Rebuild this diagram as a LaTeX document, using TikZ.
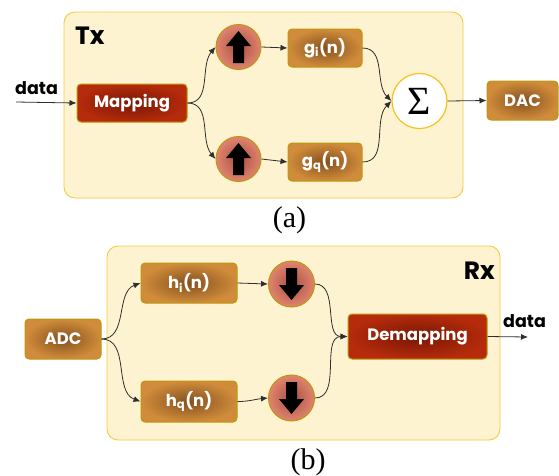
\documentclass[tikz,border=0pt]{standalone}
\usepackage{fontspec}
\setmainfont{Liberation Serif}
\setsansfont{Poppins}
\usetikzlibrary{arrows.meta}

\definecolor{panelfill}{HTML}{FEF3D0}
\definecolor{panelline}{HTML}{F3CB42}
\definecolor{boxline}{HTML}{BC980E}
\definecolor{redin}{HTML}{781705}
\definecolor{redout}{HTML}{B52B0B}
\definecolor{brin}{HTML}{85501F}
\definecolor{brout}{HTML}{D08C3A}
\definecolor{cirin}{HTML}{A9503F}
\definecolor{cirout}{HTML}{E0846F}
\definecolor{sumline}{HTML}{F6C21C}
\definecolor{wire}{HTML}{2E2E2E}

\tikzset{
  panel/.style={draw=panelline, fill=panelfill, line width=0.9pt, rounded corners=11pt},
  lbl/.style={font=\sffamily\bfseries\fontsize{16.5}{16.5}\selectfont, text=white, inner sep=0pt},
  redbox/.style={lbl, draw=boxline, line width=1pt, rounded corners=4pt,
    shading=radial, inner color=redin, outer color=redout},
  brownbox/.style={lbl, draw=boxline, line width=1pt, rounded corners=4pt,
    shading=radial, inner color=brin, outer color=brout},
  ratecirc/.style={circle, draw=boxline, line width=1pt, minimum size=45pt, inner sep=0pt,
    shading=radial, inner color=cirin, outer color=cirout},
  sumcirc/.style={circle, draw=sumline, line width=1.2pt, fill=white, minimum size=55pt, inner sep=0pt},
  heading/.style={font=\sffamily\bfseries\fontsize{25}{25}\selectfont, inner sep=0pt},
  sig/.style={font=\sffamily\bfseries\fontsize{17.5}{17.5}\selectfont, inner sep=0pt},
  caption/.style={font=\fontsize{30}{30}\selectfont, inner sep=0pt},
  link/.style={draw=wire, line width=0.8pt, -{Latex[length=7pt,width=6pt]}},
}

\newcommand\arrowup[1]{%
  \begin{scope}[shift={(#1.center)}]
    \fill[black] (0,-16) -- (12.5,-1) -- (5.5,-1) -- (5.5,16) -- (-5.5,16) -- (-5.5,-1) -- (-12.5,-1) -- cycle;
  \end{scope}}
\newcommand\arrowdown[1]{%
  \begin{scope}[shift={(#1.center)}]
    \fill[black] (0,16) -- (12.5,1) -- (5.5,1) -- (5.5,-16) -- (-5.5,-16) -- (-5.5,1) -- (-12.5,1) -- cycle;
  \end{scope}}

\begin{document}
\begin{tikzpicture}[x=1pt, y=-1pt]
\useasboundingbox (0,0) rectangle (559,475);

% ---------- transmitter ----------
\draw[panel] (64,12) rectangle (463,198);
\node[heading, anchor=base west] (tx) at (75,44) {Tx};
\node[sig, anchor=base west] (din) at (15,94) {data};
\coordinate (din0) at (16,102);

\node[redbox, minimum width=110pt, minimum height=38pt] (map) at (132,103) {Mapping};
\node[ratecirc] (up1) at (238.5,47) {};
\node[ratecirc] (up2) at (238.5,159) {};
\arrowup{up1}
\arrowup{up2}
\node[brownbox, minimum width=74pt, minimum height=38pt] (gi) at (325,48) {g\textsubscript{i}(n)};
\node[brownbox, minimum width=74pt, minimum height=38pt] (gq) at (325,162) {g\textsubscript{q}(n)};
\node[sumcirc, font=\fontsize{40}{40}\selectfont] (sum) at (419.5,101) {\raisebox{-2pt}{Σ}};
\node[brownbox, minimum width=71pt, minimum height=39pt] (dac) at (522.5,100.5) {DAC};

\draw[link] (din0) -- (map.west);
\draw[link] (map.east) to[out=0, in=230] (up1.west);
\draw[link] (map.east) to[out=0, in=130] (up2.west);
\draw[link] (up1.east) -- (gi.west);
\draw[link] (up2.east) -- (gq.west);
\draw[link] (gi.east) to[out=0, in=135] (sum.west);
\draw[link] (gq.east) to[out=0, in=225] (sum.west);
\draw[link] (sum.east) -- (dac.west);

\node[caption] (capa) at (289.5,220) {(a)};

% ---------- receiver ----------
\draw[panel] (107,246) rectangle (500,440);
\node[heading, anchor=base east] (rx) at (495,279) {Rx};

\node[brownbox, minimum width=76pt, minimum height=40pt] (adc) at (63,339) {ADC};
\node[brownbox, minimum width=96pt, minimum height=40pt] (hi) at (189,283) {h\textsubscript{i}(n)};
\node[brownbox, minimum width=96pt, minimum height=41pt] (hq) at (189,401.5) {h\textsubscript{q}(n)};
\node[ratecirc, minimum size=46pt] (dn1) at (291.5,284) {};
\node[ratecirc, minimum size=46pt] (dn2) at (291.5,398) {};
\arrowdown{dn1}
\arrowdown{dn2}
\node[redbox, minimum width=139pt, minimum height=45pt] (demap) at (417.5,336.5) {Demapping};
\node[sig, anchor=base west] (dout) at (503,327) {data};
\coordinate (dout0) at (528,337);

\draw[link] (adc.east) to[out=0, in=200] (hi.west);
\draw[link] (adc.east) to[out=0, in=160] (hq.west);
\draw[link] (hi.east) -- (dn1.west);
\draw[link] (hq.east) to[out=0, in=185] (dn2.west);
\draw[link] (dn1.east) to[out=0, in=180] (demap.west);
\draw[link] (dn2.east) to[out=0, in=180] (demap.west);
\draw[link] (demap.east) -- (dout0);

\node[caption] (capb) at (308,462) {(b)};
\end{tikzpicture}
\end{document}
